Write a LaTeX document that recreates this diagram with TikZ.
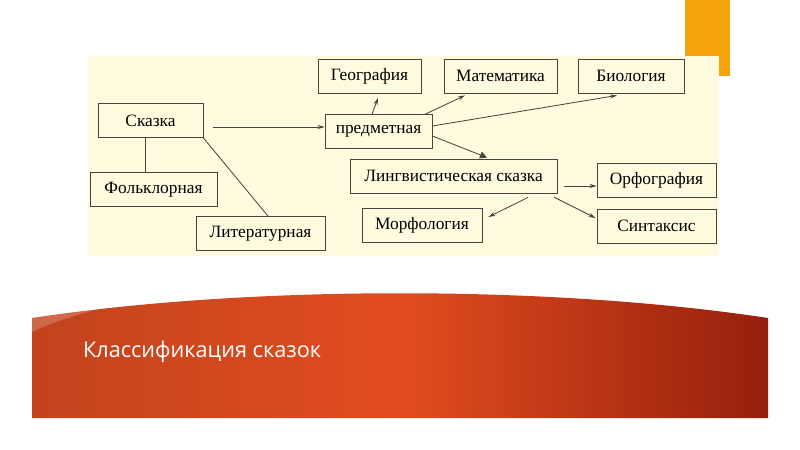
\documentclass[tikz,border=0pt]{standalone}
\usepackage{fontspec}
\setmainfont{Liberation Serif}
\newfontfamily\titlefont{Open Sans}
\usetikzlibrary{arrows.meta,calc}
\definecolor{panel}{HTML}{FEFBDF}
\definecolor{barorange}{HTML}{F4A30A}
\definecolor{bandlight}{HTML}{E24D1F}
\definecolor{bandleft}{HTML}{C2431D}
\definecolor{banddark}{HTML}{961F0C}
\definecolor{edge}{HTML}{45453C}
\begin{document}
\begin{tikzpicture}[x=0.03cm, y=-0.03cm, font=\fontsize{14.8}{16}\selectfont,
    box/.style={draw=edge, line width=0.7pt, fill=panel, minimum height=1.02cm, inner sep=0pt},
    arr/.style={-{Stealth[length=6pt,width=3.5pt]}, draw=edge, line width=0.7pt},
    tie/.style={draw=edge, line width=0.7pt}]
  \useasboundingbox (0,0) rectangle (800,450);
  % slide background
  \fill[barorange] (685,0) rectangle (730,76);
  \fill[panel] (88,56) rectangle (719,256);
  \shade[left color=bandleft, right color=banddark, middle color=bandlight]
    (32,318) .. controls (250,285) and (550,285) .. (768,318) -- (768,418) -- (32,418) -- cycle;
  \fill[white, opacity=0.2] (32,318) .. controls (80,306) and (130,298) .. (185,293)
    .. controls (120,302) and (70,314) .. (32,332) -- cycle;
  \node[text=white, anchor=west, font=\titlefont\fontsize{18.5}{20}\selectfont] (title)
    at (79,352) {Классификация сказок};
  % boxes
  \foreach \n/\x/\y/\w/\t in {skazka/150.5/120.5/105/Сказка,
      folk/153.5/189.5/127/Фольклорная, lit/260.5/233.5/129/Литературная,
      geo/369.5/76.5/103/География, predm/378.5/131.5/107/предметная,
      ling/453.5/176/207/Лингвистическая сказка, morf/422/225/120/Морфология,
      mat/500.5/76/113/Математика, bio/631/76/106/Биология,
      orf/656.5/180.5/119/Орфография, sin/656.5/226/119/Синтаксис} {
    \node[box, minimum width=\w*0.03cm] (\n) at (\x,\y) {\t};
  }
  % connectors
  \draw[arr] ($(skazka.east)+(10,6.5)$) -- ($(predm.west)+(0,-4.5)$);
  \draw[tie] ($(skazka.south)+(-5.5,0)$) -- ($(folk.north)+(-8.5,0)$);
  \draw[tie] (skazka.south east) -- ($(lit.north)+(7.5,0)$);
  \draw[arr] ($(predm.north)+(-6.5,0)$) -- ($(geo.south)+(8.5,4)$);
  \draw[arr] ($(predm.north east)+(-7,0)$) -- ($(mat.south)+(-35.5,2)$);
  \draw[arr] ($(predm.east)+(0,-5.5)$) -- ($(bio.south)+(-14,2)$);
  \draw[-{Triangle[length=6pt,width=6pt]}, draw=edge, line width=0.7pt]
    ($(predm.east)+(0,4.5)$) -- ($(ling.north)+(33.5,-1)$);
  \draw[arr] ($(ling.east)+(7,10)$) -- ($(orf.west)+(0,5.5)$);
  \draw[arr] ($(ling.south)+(74.5,4)$) -- ($(morf.east)+(6,-8)$);
  \draw[arr] ($(ling.south east)+(-3,4)$) -- ($(sin.west)+(-1,-8)$);
\end{tikzpicture}
\end{document}
